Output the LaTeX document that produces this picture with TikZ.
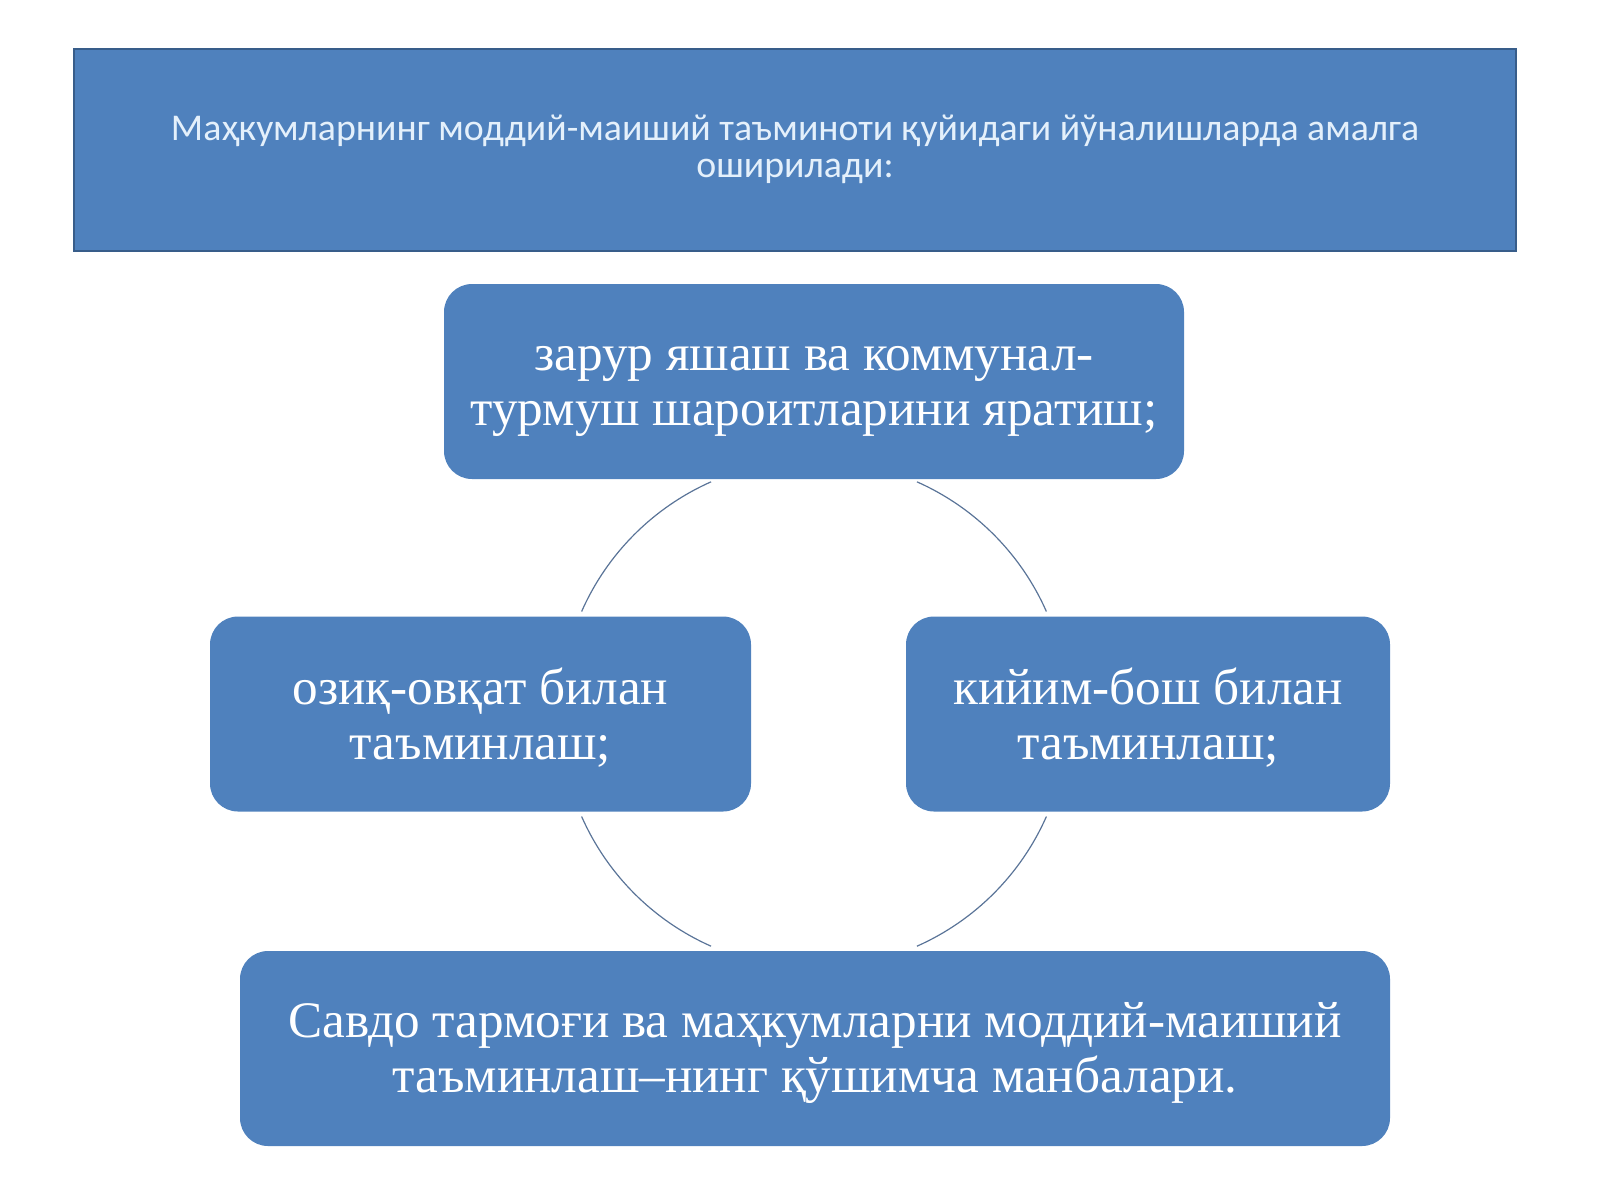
\documentclass[tikz,border=0pt]{standalone}
\usepackage{fontspec}
\setmainfont{Liberation Serif}
\newfontfamily\headfont{Carlito}
\definecolor{boxblue}{HTML}{4F81BD}
\definecolor{edgeblue}{HTML}{385D8A}
\definecolor{ringline}{HTML}{5A7498}
\definecolor{headtext}{HTML}{E4F0FB}
\newcommand{\lineup}{\rule{0pt}{0.85em}}
\tikzset{
  headbox/.style = {draw=edgeblue,line width=1pt,fill=boxblue,text=headtext,
    minimum width=721pt,minimum height=101pt,align=center,
    font=\headfont\fontsize{18.9pt}{18.5pt}\selectfont},
  itembox/.style = {fill=boxblue,rounded corners=14pt,text=white,
    minimum height=97.5pt,align=center,
    font=\fontsize{25.6pt}{27.5pt}\selectfont},
  ringarc/.style = {ringline,line width=0.6pt}
}

\begin{document}
\begin{tikzpicture}[x=0.5pt,y=-0.5pt]
  \useasboundingbox (0,0) rectangle (1600,1200);
  \node[headbox] (head) at (795,149.5)
    {Маҳкумларнинг моддий-маиший таъминоти қуйидаги йўналишларда амалга\\ оширилади:};
  \node[itembox,minimum width=370pt] (live) at (814,381.5)
    {\lineup зарур яшаш ва коммунал-\\турмуш шароитларини яратиш;};
  \node[itembox,minimum width=270.5pt] (food) at (480.5,714)
    {\lineup озиқ-овқат билан\\таъминлаш;};
  \node[itembox,minimum width=242pt] (cloth) at (1148,714)
    {\lineup кийим-бош билан\\таъминлаш;};
  \node[itembox,minimum width=575pt] (trade) at (815,1048.5)
    {\lineup Савдо тармоғи ва маҳкумларни моддий-маиший\\таъминлаш–нинг қўшимча манбалари.};
  \coordinate (hub) at (live.center |- food.center);
  % ring between the boxes
  \foreach \a/\b in {23.8/66.1, 113.9/156.2, 203.8/246.1, 293.9/336.2}
    \draw[ringarc] (hub) ++(-\a:127pt) arc[start angle=-\a, end angle=-\b, radius=127pt];
\end{tikzpicture}
\end{document}
